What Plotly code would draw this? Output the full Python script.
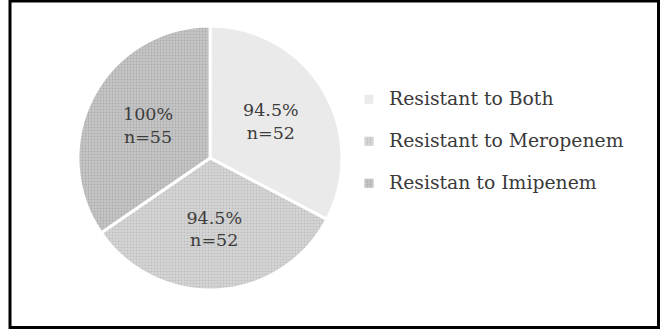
import plotly.graph_objects as go

categories = ["Resistant to Both", "Resistant to Meropenem", "Resistan to Imipenem"]
counts = [52, 52, 55]
percents = [94.5, 94.5, 100]
slice_colors = ["#eaeaea", "#d6d6d6", "#c6c6c6"]
pattern_fg = ["#eaeaea", "#bebebe", "#adadad"]

slice_text = [f"{p:g}%<br>n={n}" for p, n in zip(percents, counts)]
legend_labels = [f"<span style='font-size:18.8px'>{c}</span><br> " for c in categories]

fig = go.Figure(
    go.Pie(
        labels=legend_labels,
        values=counts,
        text=slice_text,
        textinfo="text",
        hovertext=categories,
        hoverinfo="text",
        sort=False,
        direction="clockwise",
        rotation=0,
        textposition="inside",
        insidetextorientation="horizontal",
        textfont=dict(family="DejaVu Serif", size=17.5, color="#3c3c3c"),
        marker=dict(
            colors=slice_colors,
            line=dict(color="white", width=3),
            pattern=dict(
                shape=["", ".", "."],
                fgcolor=pattern_fg,
                bgcolor=slice_colors,
                size=3,
                solidity=0.3,
            ),
        ),
        domain=dict(x=[77 / 660, 343 / 660], y=[(330 - 290) / 330, (330 - 26) / 330]),
    )
)

fig.update_layout(
    width=660,
    height=330,
    margin=dict(l=0, r=0, t=0, b=0),
    paper_bgcolor="white",
    plot_bgcolor="white",
    showlegend=True,
    legend=dict(
        x=349 / 660,
        y=(330 - 83) / 330,
        xanchor="left",
        yanchor="top",
        valign="top",
        font=dict(family="DejaVu Serif", size=15, color="#3a3a3a"),
        itemwidth=30,
    ),
    shapes=[
        dict(
            type="rect",
            xref="paper",
            yref="paper",
            x0=10 / 660,
            x1=658.5 / 660,
            y0=2.5 / 330,
            y1=329 / 330,
            line=dict(color="black", width=3),
        )
    ],
)

fig.write_html(
    "out.html",
    config={"displayModeBar": False},
    post_script="document.body.style.margin='0px';",
)
